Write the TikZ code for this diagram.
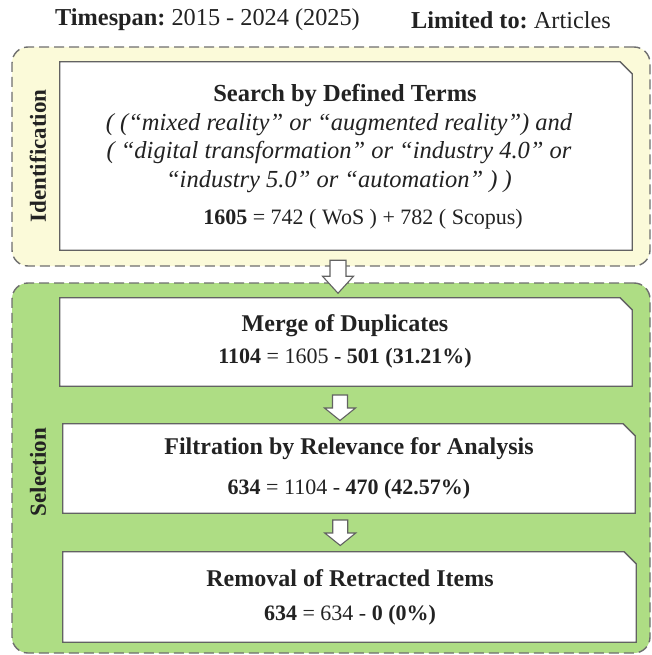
\documentclass[tikz,border=0pt]{standalone}
\usepackage{fontspec}
\setmainfont{Liberation Serif}
\usetikzlibrary{calc}
\definecolor{idfill}{HTML}{FBFAD9}
\definecolor{selfill}{HTML}{AEDD84}
\definecolor{dashgray}{HTML}{6E6E6E}
\definecolor{boxgray}{HTML}{626262}
\definecolor{ink}{HTML}{222222}
\newcommand{\chambox}[1]{%
  \path[boxline] (#1.south west) -- (#1.north west) -- ([xshift=-12pt]#1.north east)
    -- ([yshift=-12pt]#1.north east) -- (#1.south east) -- cycle;}
\begin{document}
\frenchspacing
\begin{tikzpicture}[x=1pt,y=-1pt,
  region/.style={draw=dashgray, line width=1.4pt, dash pattern=on 10pt off 5pt, rounded corners=16pt, inner sep=0pt},
  stagebox/.style={rectangle, draw=none, inner sep=0pt},
  boxline/.style={draw=boxgray, line width=1.3pt, fill=white, line join=miter},
  headtxt/.style={font=\bfseries\fontsize{24}{28}\selectfont, text=ink, inner sep=0pt},
  numtxt/.style={font=\fontsize{22}{26}\selectfont, text=ink, inner sep=0pt},
  sidetxt/.style={font=\bfseries\fontsize{23}{27}\selectfont, text=ink, rotate=90, inner sep=0pt},
  titletxt/.style={font=\fontsize{24.3}{28}\selectfont, text=ink, inner sep=0pt},
  blockarrow/.style={draw=boxgray, line width=1.1pt, fill=white, line join=miter},
  bigdn/.pic={\path[blockarrow] (-8,-16) -- (8,-16) -- (8,0) -- (15.5,0) -- (0,17) -- (-15.5,0) -- (-8,0) -- cycle;},
  smalldn/.pic={\path[blockarrow] (-7.5,-13) -- (7.5,-13) -- (7.5,0) -- (15.5,0) -- (0,12.5) -- (-15.5,0) -- (-7.5,0) -- cycle;}
]
\useasboundingbox (0,0) rectangle (652,655);

% title
\node[titletxt, anchor=west] (span) at (55,20) {\textbf{Timespan:} 2015 - 2024 (2025)};
\node[titletxt, anchor=east] (limit) at (611,20) {\textbf{Limited to:} Articles};

% regions
\node[region, fill=idfill, minimum width=638pt, minimum height=219pt] (idreg) at (331,156.5) {};
\node[region, fill=selfill, minimum width=638pt, minimum height=370pt] (selreg) at (331,468) {};

\node[sidetxt] (idlab) at (38,156) {Identification};
\node[sidetxt] (sellab) at (38,472) {Selection};

% boxes
\node[stagebox, minimum width=572pt, minimum height=188pt] (search) at (346,156) {};
\node[stagebox, minimum width=572pt, minimum height=88pt] (merge) at (346,342) {};
\node[stagebox, minimum width=572pt, minimum height=89pt] (filt) at (349,468.5) {};
\node[stagebox, minimum width=573pt, minimum height=90pt] (remov) at (349.5,597) {};
\chambox{search}
\chambox{merge}
\chambox{filt}
\chambox{remov}

% texts
\node[headtxt, font=\bfseries\fontsize{24.5}{28}\selectfont] (searchh) at (345,96) {Search by Defined Terms};
\node[font=\itshape\fontsize{24.5}{28.5}\selectfont, text=ink, align=center, inner sep=0pt] (terms) at (339,153)
  {( (“mixed reality” or “augmented reality”) and\\( “digital transformation” or “industry 4.0” or\\“industry 5.0” or “automation” ) )};
\node[numtxt] (searchn) at (363,219.5) {\textbf{1605} = 742 ( WoS ) + 782 ( Scopus)};

\node[headtxt] (mergeh) at (345,326) {Merge of Duplicates};
\node[numtxt] (mergen) at (345,358.5) {\textbf{1104} = 1605 - \textbf{501 (31.21\%)}};

\node[headtxt] (filth) at (349,449) {Filtration by Relevance for Analysis};
\node[numtxt] (filtn) at (349,489) {\textbf{634} = 1104 - \textbf{470 (42.57\%)}};

\node[headtxt] (remh) at (350,578) {Removal of Retracted Items};
\node[numtxt] (remn) at (350,615) {\textbf{634} = 634 - \textbf{0 (0\%)}};

% arrows
\pic at ($(search.south)!0.5!(selreg.north)+(-0.5,10)$) {bigdn};
\pic at ($(merge.south)!0.5!(filt.north)+(-7.5,3)$) {smalldn};
\pic at ($(filt.south)!0.5!(remov.north)+(-9,0.5)$) {smalldn};
\end{tikzpicture}
\end{document}
